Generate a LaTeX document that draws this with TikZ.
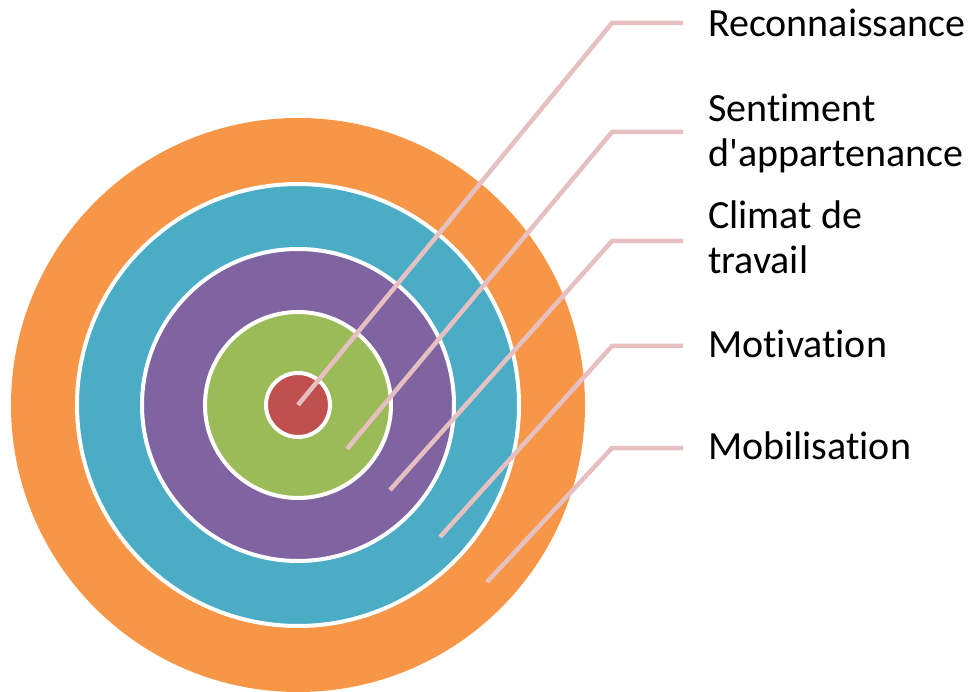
\documentclass[tikz,border=0pt]{standalone}
\usepackage{fontspec}
\setmainfont[Ligatures={NoCommon}]{Carlito}
\definecolor{ringorange}{HTML}{F79646}
\definecolor{ringblue}{HTML}{4BACC6}
\definecolor{ringpurple}{HTML}{8064A2}
\definecolor{ringgreen}{HTML}{9BBB59}
\definecolor{ringred}{HTML}{C0504D}
\definecolor{leader}{HTML}{E6C0C0}
\tikzset{
  ring/.style={draw=white, line width=4pt},
  leaderline/.style={leader, line width=4.5pt},
  label/.style={anchor=base west, align=left, inner sep=0pt, font=\fontsize{40}{45}\selectfont}
}
\begin{document}
\begin{tikzpicture}[x=1pt,y=-1pt]
			\useasboundingbox (0,0) rectangle (969,692);
			\fill[ringorange] (298,405) circle (287);
			\draw[ring, fill=ringblue] (298,405) circle (221);
			\draw[ring, fill=ringpurple] (298,405) circle (156);
			\draw[ring, fill=ringgreen] (298,405) circle (93);
			\draw[ring, fill=ringred] (298,405) circle (32);
			% labels (base = last line)
			\node[label] (reco) at (708,37) {Reconnaissance};
			\node[label] (sent) at (708,167) {Sentiment\\d\textquotesingle appartenance};
			\node[label] (clim) at (708,274) {Climat de\\travail};
			\node[label] (moti) at (708,358) {Motivation};
			\node[label] (mobi) at (708,459) {Mobilisation};
			% leader lines
			\coordinate (s1) at (298,405);
			\coordinate (k1) at (612,23);
			\coordinate (s2) at (347,449);
			\coordinate (k2) at (612,132);
			\coordinate (s3) at (390,490);
			\coordinate (k3) at (612,241);
			\coordinate (s4) at (440,537);
			\coordinate (k4) at (612,346);
			\coordinate (s5) at (487,582);
			\coordinate (k5) at (612,448);
			\draw[leaderline] (s1) -- (k1) -- (k1 -| 683,0);
			\draw[leaderline] (s2) -- (k2) -- (k2 -| 683,0);
			\draw[leaderline] (s3) -- (k3) -- (k3 -| 683,0);
			\draw[leaderline] (s4) -- (k4) -- (k4 -| 683,0);
			\draw[leaderline] (s5) -- (k5) -- (k5 -| 683,0);
		\end{tikzpicture}
\end{document}
